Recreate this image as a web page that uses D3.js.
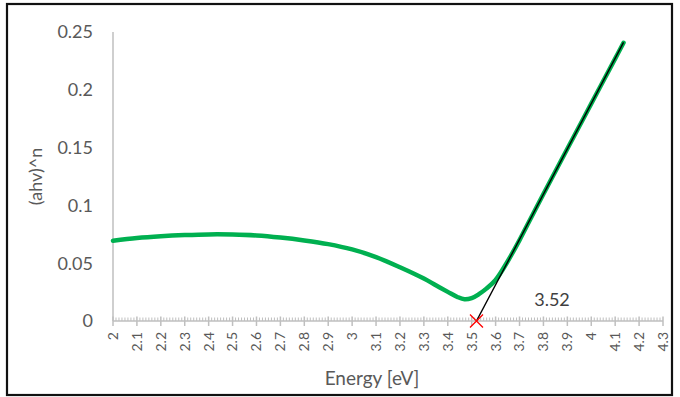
<!DOCTYPE html>
<html>
<head>
<meta charset="utf-8">
<script src="https://cdn.jsdelivr.net/npm/d3@7"></script>
<style>
  html, body { margin: 0; padding: 0; background: #fff; }
  svg { display: block; }
  text { font-family: Lato, "Open Sans", sans-serif; }
</style>
</head>
<body>
<svg id="chart" width="680" height="397"></svg>
<script>
// Tauc plot: (ahv)^n against photon energy, with the linear fit used for the band gap.
const energy = [2.00, 2.10, 2.20, 2.30, 2.40, 2.50, 2.60, 2.70, 2.80, 2.90, 3.00, 3.10, 3.20,
                3.30, 3.35, 3.40, 3.44, 3.47, 3.50, 3.53, 3.56, 3.60, 3.65, 3.70, 3.75, 3.80,
                3.90, 4.00, 4.10, 4.135];
const tauc = [0.0695, 0.0718, 0.0733, 0.0743, 0.0749, 0.0748, 0.0740, 0.0722, 0.0697, 0.0665,
              0.0619, 0.0553, 0.0465, 0.0367, 0.0309, 0.0252, 0.0208, 0.0188, 0.0198, 0.0232,
              0.0278, 0.0355, 0.0515, 0.0700, 0.0900, 0.1098, 0.1490, 0.1880, 0.2270, 0.2407];

// Linear fit through the absorption edge, from the intercept to the top of the data
const fitEnergy = [3.52, 4.135];
const fitValue = [0, 0.241];
const bandGap = 3.52;

const xTicks = [2, 2.1, 2.2, 2.3, 2.4, 2.5, 2.6, 2.7, 2.8, 2.9, 3, 3.1, 3.2, 3.3, 3.4, 3.5,
                3.6, 3.7, 3.8, 3.9, 4, 4.1, 4.2, 4.3];
const yTicks = [0, 0.05, 0.1, 0.15, 0.2, 0.25];

const svg = d3.select("#chart");
const x = d3.scaleLinear().domain([2, 4.3]).range([113, 663]);
const y = d3.scaleLinear().domain([0, 0.25]).range([321, 32]);

// outer frame
svg.append("rect")
  .attr("x", 7).attr("y", 4).attr("width", 665).attr("height", 391)
  .attr("fill", "none").attr("stroke", "#111").attr("stroke-width", 2.2);

const axisColor = "#bfbfbf";
const labelColor = "#595959";

// y axis line and labels
svg.append("line")
  .attr("x1", x(2)).attr("x2", x(2)).attr("y1", y(0.25)).attr("y2", y(0))
  .attr("stroke", axisColor).attr("stroke-width", 1.5);

svg.append("g").selectAll("text").data(yTicks).join("text")
  .attr("x", 93).attr("y", d => y(d)).attr("dy", "0.35em")
  .attr("text-anchor", "end").attr("font-size", 18).attr("fill", labelColor)
  .text(d => d3.format("")(d));

// x axis: minor ticks, major cross ticks and line
const minor = [];
for (let i = 0; i < xTicks.length - 1; i++) {
  for (let k = 1; k < 8; k++) minor.push(xTicks[i] + (xTicks[i + 1] - xTicks[i]) * k / 8);
}
const xg = svg.append("g");
xg.selectAll("line.minor").data(minor).join("line")
  .attr("class", "minor")
  .attr("x1", d => x(d)).attr("x2", d => x(d))
  .attr("y1", y(0) - 3.5).attr("y2", y(0))
  .attr("stroke", axisColor).attr("stroke-width", 1);
xg.selectAll("line.major").data(xTicks).join("line")
  .attr("class", "major")
  .attr("x1", d => x(d)).attr("x2", d => x(d))
  .attr("y1", y(0) - 4.5).attr("y2", y(0) + 5)
  .attr("stroke", axisColor).attr("stroke-width", 1.5);
xg.append("line")
  .attr("x1", x(2)).attr("x2", x(4.3)).attr("y1", y(0)).attr("y2", y(0))
  .attr("stroke", axisColor).attr("stroke-width", 1.5);

xg.selectAll("text").data(xTicks).join("text")
  .attr("transform", d => `translate(${x(d)},332) rotate(-90)`)
  .attr("dy", "0.35em").attr("text-anchor", "end")
  .attr("font-size", 14).attr("fill", labelColor)
  .text(d => d3.format("")(d));

// axis titles
svg.append("text")
  .attr("x", 372).attr("y", 385).attr("text-anchor", "middle")
  .attr("font-size", 19).attr("fill", labelColor)
  .text("Energy [eV]");
svg.append("text")
  .attr("transform", `translate(42,${(y(0) + y(0.25)) / 2}) rotate(-90)`)
  .attr("text-anchor", "middle").attr("font-size", 18).attr("fill", labelColor)
  .text("(ahv)^n");

// measured curve
const line = d3.line().x(d => x(d[0])).y(d => y(d[1])).curve(d3.curveCatmullRom.alpha(0.5));
svg.append("path")
  .datum(d3.zip(energy, tauc))
  .attr("d", line)
  .attr("fill", "none").attr("stroke", "#00b050").attr("stroke-width", 4.5)
  .attr("stroke-linejoin", "round").attr("stroke-linecap", "round");

// linear fit
svg.append("path")
  .datum(d3.zip(fitEnergy, fitValue))
  .attr("d", d3.line().x(d => x(d[0])).y(d => y(d[1])))
  .attr("fill", "none").attr("stroke", "#000").attr("stroke-width", 1.4);

// band-gap intercept marker and label
const mx = x(bandGap), my = y(0), s = 6.5;
svg.append("path")
  .attr("d", `M${mx - s},${my - s}L${mx + s},${my + s}M${mx - s},${my + s}L${mx + s},${my - s}`)
  .attr("stroke", "#ff0000").attr("stroke-width", 1.3).attr("fill", "none");
svg.append("text")
  .attr("x", 552).attr("y", 306).attr("text-anchor", "middle")
  .attr("font-size", 18).attr("fill", "#404040")
  .text(d3.format(".2f")(bandGap));
</script>
</body>
</html>
